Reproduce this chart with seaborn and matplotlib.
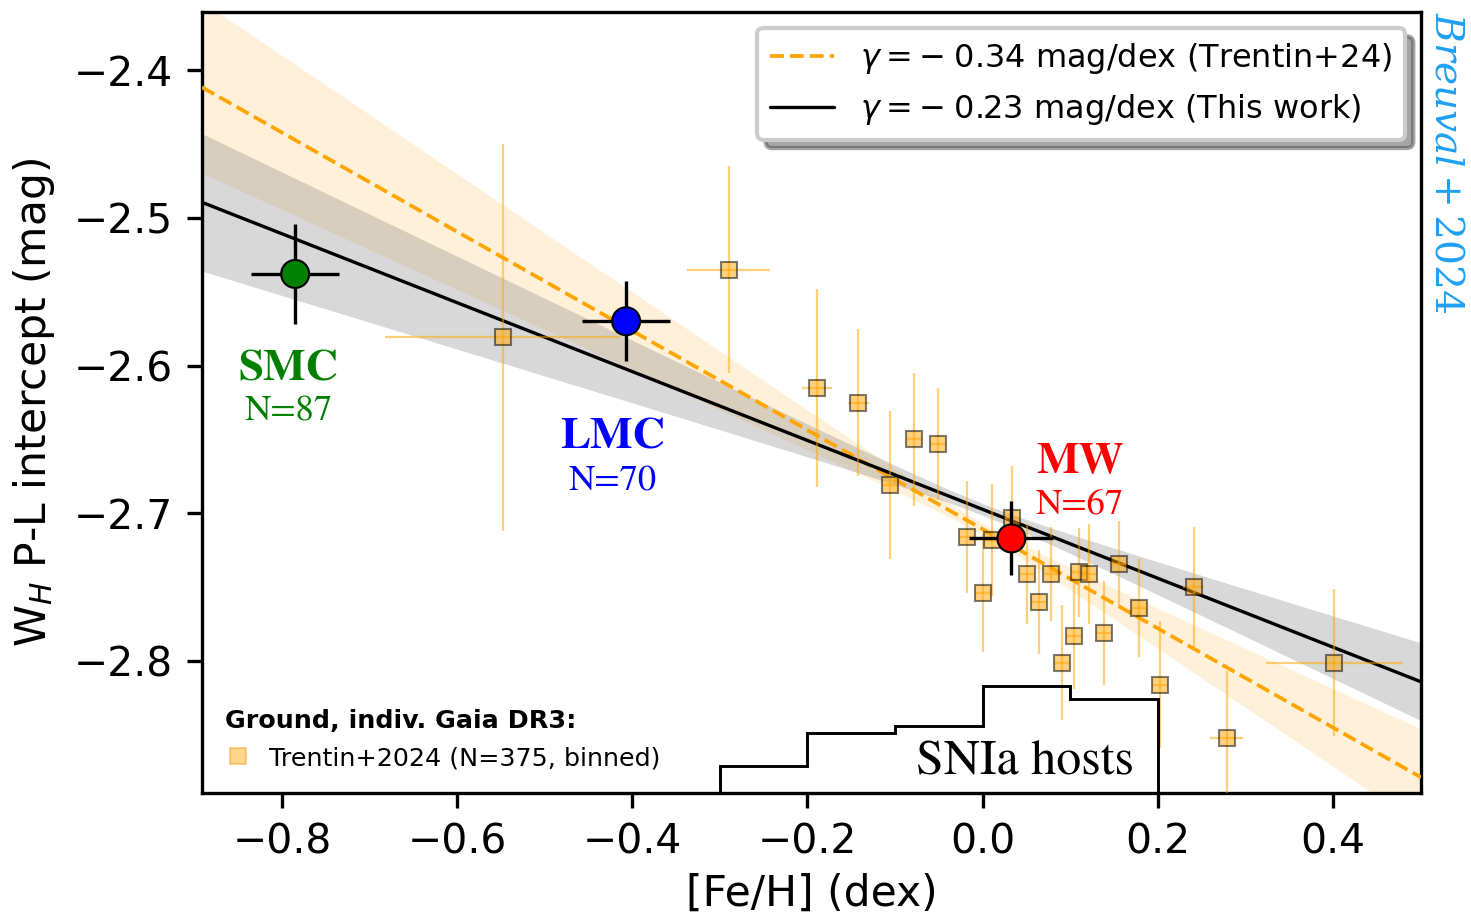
import numpy as np
import pandas as pd
import matplotlib
matplotlib.use("Agg")
import matplotlib.pyplot as plt
from matplotlib.lines import Line2D
import seaborn as sns

# ---------------- data ----------------
# Trentin+2024 binned points
trentin_feh = [-0.548, -0.290, -0.189, -0.142, -0.106, -0.078, -0.051, -0.018, 0.000, 0.011,
               0.034, 0.051, 0.065, 0.078, 0.091, 0.105, 0.110, 0.122, 0.139, 0.156,
               0.179, 0.203, 0.241, 0.279, 0.402]
trentin_icpt = [-2.581, -2.535, -2.615, -2.625, -2.681, -2.650, -2.653, -2.716, -2.754, -2.718,
                -2.703, -2.741, -2.760, -2.741, -2.801, -2.783, -2.740, -2.741, -2.781, -2.734,
                -2.764, -2.816, -2.750, -2.852, -2.801]
trentin_icpt_err = [0.131, 0.070, 0.067, 0.050, 0.050, 0.045, 0.038, 0.038, 0.040, 0.038,
                    0.035, 0.034, 0.035, 0.032, 0.039, 0.036, 0.030, 0.034, 0.035, 0.029,
                    0.033, 0.043, 0.041, 0.045, 0.050]
trentin_feh_err = [0.134, 0.047, 0.017, 0.012, 0.008, 0.008, 0.008, 0.008, 0.008, 0.008,
                   0.008, 0.008, 0.008, 0.008, 0.008, 0.008, 0.008, 0.008, 0.008, 0.008,
                   0.008, 0.008, 0.012, 0.019, 0.078]

# Galaxies (this work)
gal_names = ["SMC", "LMC", "MW"]
gal_n = ["N=87", "N=70", "N=67"]
gal_feh = [-0.785, -0.407, 0.033]
gal_feh_err = [0.050, 0.050, 0.048]
gal_icpt = [-2.538, -2.570, -2.717]
gal_icpt_err = [0.034, 0.027, 0.025]
gal_colors = ["green", "blue", "red"]

# Linear fits: y = zero + slope * [Fe/H]
fit_labels = [r"$\gamma = -\;0.34$ mag/dex (Trentin+24)",
              r"$\gamma = -\;0.23$ mag/dex (This work)"]
fit_slopes = [-0.3355, -0.2331]
fit_zero = [-2.7107, -2.6973]
fit_slope_err = [0.065, 0.052]
fit_zero_err = [0.004, 0.004]

# SNIa host metallicity histogram
host_edges = [-0.3, -0.2, -0.1, 0.0, 0.1, 0.2]
host_counts = [4, 9, 10, 16, 14]

# ---------------- style ----------------
sns.set_style("ticks", {"axes.edgecolor": "black", "xtick.color": "black",
                        "ytick.color": "black", "text.color": "black",
                        "axes.labelcolor": "black"})
plt.rcParams["font.family"] = ["DejaVu Sans"]
plt.rcParams["mathtext.fontset"] = "dejavusans"

fig = plt.figure(figsize=(1471 / 300, 914 / 300), dpi=300)
ax = fig.add_axes([202 / 1471, 1 - 793 / 914, (1421 - 202) / 1471, (793 - 12) / 914])

xlim = (-0.8914, 0.5008)
xx = np.linspace(xlim[0], xlim[1], 300)

# bands
band_styles = [dict(color="orange", alpha=0.15, lw=0), dict(color="gray", alpha=0.3, lw=0)]
for s, z, ds, dz, st in zip(fit_slopes, fit_zero, fit_slope_err, fit_zero_err, band_styles):
    yy = z + s * xx
    hw = np.sqrt(dz ** 2 + (ds * xx) ** 2)
    ax.fill_between(xx, yy - hw, yy + hw, zorder=1, **st)

# fit lines
line_styles = [dict(color="orange", lw=0.9, ls="--"), dict(color="black", lw=0.8, ls="-")]
handles = []
for s, z, lab, st in zip(fit_slopes, fit_zero, fit_labels, line_styles):
    df = pd.DataFrame({"x": xx, "y": z + s * xx})
    sns.lineplot(data=df, x="x", y="y", ax=ax, zorder=3, legend=False, **st)
    handles.append(Line2D([], [], label=lab, **st))

# Trentin points
ax.errorbar(trentin_feh, trentin_icpt, xerr=trentin_feh_err, yerr=trentin_icpt_err,
            fmt="s", color="orange", ecolor="orange", mfc="orange", mec="black",
            ms=4, mew=0.5, elinewidth=0.55, alpha=0.5, zorder=4)

# SNIa hosts histogram on twin axis
ax2 = ax.twinx()
ax2.stairs(host_counts, host_edges, color="black", lw=0.7, zorder=2)
ax2.set_ylim(0, 116.5)
ax2.set_yticks([])
for sp in ax2.spines.values():
    sp.set_visible(False)
ax2.set_ylabel("")

# galaxies
ax.errorbar(gal_feh, gal_icpt, xerr=gal_feh_err, yerr=gal_icpt_err, fmt="none",
            ecolor="black", elinewidth=0.8, zorder=6)
gdf = pd.DataFrame({"x": gal_feh, "y": gal_icpt, "name": gal_names})
sns.scatterplot(data=gdf, x="x", y="y", hue="name", palette=dict(zip(gal_names, gal_colors)),
                s=45, edgecolor="black", linewidth=0.5, ax=ax, zorder=7, legend=False)

lab_pos = [(-0.793, -2.6033, -2.6315), (-0.4221, -2.6492, -2.6788), (0.1113, -2.6650, -2.6942)]
for (x, y1, y2), nm, nn, c in zip(lab_pos, gal_names, gal_n, gal_colors):
    ax.text(x, y1, nm, color=c, fontsize=10.8, fontweight="bold", family="STIXGeneral",
            ha="center", va="center", zorder=8)
    ax.text(x, y2, nn, color=c, fontsize=8.8, family="STIXGeneral",
            ha="center", va="center", zorder=8)

ax.text(0.0484, -2.869, "SNIa hosts", fontsize=12, family="STIXGeneral",
        ha="center", va="center", zorder=8)

ax.text(1.0213, 1.0, r"$Breuval+2024$", transform=ax.transAxes, rotation=270,
        ha="center", va="top", color="#1ea0f5", fontsize=9.4, math_fontfamily="dejavuserif")

# axes
ax.set_xlim(*xlim)
ax.set_ylim(-2.8893, -2.3607)
ax.set_xticks([-0.8, -0.6, -0.4, -0.2, 0.0, 0.2, 0.4])
ax.set_yticks([-2.8, -2.7, -2.6, -2.5, -2.4])
ax.tick_params(labelsize=9.8, width=0.8, length=3.5)
ax.set_xlabel("[Fe/H] (dex)", fontsize=10.2, labelpad=2.5)
ax.set_ylabel(r"W$_H$ P-L intercept (mag)", fontsize=10.2)
for sp in ax.spines.values():
    sp.set_visible(True)
    sp.set_linewidth(0.8)
    sp.set_color("black")

leg1 = ax2.legend(handles=handles, loc="upper right", fontsize=7.7, frameon=True,
                  shadow=True, fancybox=True, framealpha=1.0, edgecolor="0.8")
leg1.set_zorder(20)
ax2.add_artist(leg1)

sq = Line2D([], [], marker="s", ls="", color="orange", alpha=0.45, mec="darkorange",
            ms=4, mew=0.4, label="Trentin+2024 (N=375, binned)")
leg2 = ax2.legend(handles=[sq], loc="lower left", fontsize=6.1, frameon=False,
                  title="Ground, indiv. Gaia DR3:", title_fontproperties={"weight": "bold", "size": 6.1},
                  alignment="left", handlelength=1.0, handletextpad=0.75,
                  borderaxespad=0.5)

fig.savefig("out.png", dpi=300)
